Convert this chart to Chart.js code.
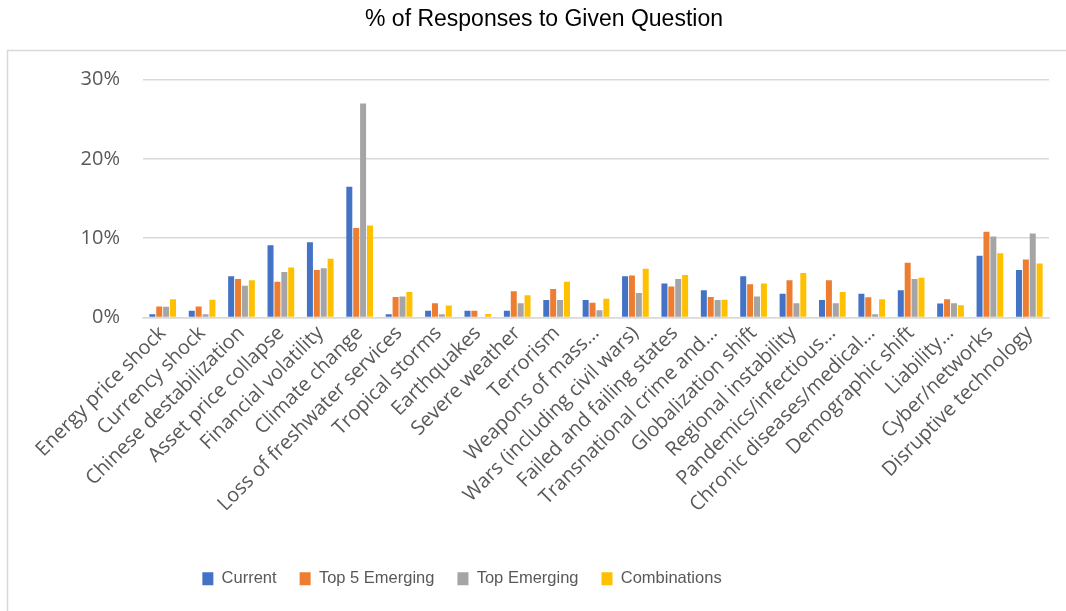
<!DOCTYPE html>
<html>
<head>
<meta charset="utf-8">
<script src="https://cdn.jsdelivr.net/npm/chart.js@4"></script>
<style>
  html, body { margin: 0; padding: 0; background: #fff; overflow: hidden; }
  #wrap { width: 1066px; height: 611px; }
</style>
</head>
<body>
<div id="wrap"><canvas id="risks"></canvas></div>
<script>
var categories = [
  "Energy price shock", "Currency shock", "Chinese destabilization", "Asset price collapse",
  "Financial volatility", "Climate change", "Loss of freshwater services", "Tropical storms",
  "Earthquakes", "Severe weather", "Terrorism", "Weapons of mass…",
  "Wars (including civil wars)", "Failed and failing states", "Transnational crime and…",
  "Globalization shift", "Regional instability", "Pandemics/infectious…",
  "Chronic diseases/medical…", "Demographic shift", "Liability…", "Cyber/networks",
  "Disruptive technology"
];

var current =        [0.4, 0.85, 5.2, 9.1, 9.5, 16.5, 0.4, 0.85, 0.85, 0.85, 2.2, 2.2, 5.2, 4.3, 3.45, 5.2, 3.0, 2.2, 3.0, 3.45, 1.75, 7.8, 6.0];
var top5Emerging =   [1.4, 1.4, 4.85, 4.5, 6.0, 11.3, 2.6, 1.8, 0.85, 3.3, 3.6, 1.85, 5.3, 3.9, 2.6, 4.2, 4.7, 4.7, 2.55, 6.9, 2.3, 10.8, 7.3];
var topEmerging =    [1.35, 0.4, 4.0, 5.75, 6.2, 27.0, 2.65, 0.4, 0, 1.8, 2.2, 0.9, 3.1, 4.85, 2.2, 2.65, 1.8, 1.8, 0.4, 4.85, 1.8, 10.2, 10.6];
var combinations =   [2.3, 2.25, 4.7, 6.3, 7.4, 11.6, 3.2, 1.5, 0.45, 2.8, 4.5, 2.35, 6.15, 5.35, 2.25, 4.3, 5.6, 3.2, 2.3, 5.0, 1.55, 8.1, 6.8];

var yTicks = [0, 10, 20, 30];

var seriesNames = ["Current", "Top 5 Emerging", "Top Emerging", "Combinations"];
var seriesColors = ["#4472C4", "#ED7D31", "#A5A5A5", "#FFC000"];
var seriesData = [current, top5Emerging, topEmerging, combinations];

// grey frame round the plot, title sits above it
var frame = {
  id: "frame",
  beforeDraw(chart) {
    const ctx = chart.ctx;
    ctx.save();
    ctx.strokeStyle = "#D9D9D9";
    ctx.lineWidth = 1.5;
    ctx.strokeRect(7.5, 50.5, 1100, 600);
    ctx.restore();
  },
  // the legend in the original sits left of centre
  afterUpdate(chart) {
    chart.legend.left -= 82;
    chart.legend.right -= 82;
  }
};

new Chart("risks", {
  type: "bar",
  data: {
    labels: categories,
    datasets: seriesNames.map((name, i) => ({
      label: name,
      data: seriesData[i],
      backgroundColor: seriesColors[i],
      categoryPercentage: 0.7,
      barPercentage: 0.87
    }))
  },
  options: {
    responsive: true,
    maintainAspectRatio: false,
    animation: false,
    layout: { padding: { left: 39, right: 17, top: 0, bottom: 14 } },
    plugins: {
      title: {
        display: true,
        text: "% of Responses to Given Question",
        color: "#000",
        font: { family: "'Liberation Sans'", size: 23, weight: "normal" },
        padding: { top: 6, bottom: 46 }
      },
      legend: {
        position: "bottom",
        labels: {
          boxWidth: 11,
          boxHeight: 13,
          padding: 23,
          color: "#595959",
          font: { family: "'Liberation Sans'", size: 16.5 }
        }
      },
      tooltip: { enabled: false }
    },
    scales: {
      x: {
        grid: { display: false, drawTicks: false },
        border: { color: "#D9D9D9", width: 1.5 },
        ticks: {
          color: "#595959",
          font: { family: "'Open Sans'", size: 20 },
          minRotation: 45,
          maxRotation: 45,
          autoSkip: false,
          padding: 4
        },
        afterFit(scale) { scale.height = 230; }
      },
      y: {
        min: 0,
        max: 30,
        afterBuildTicks(scale) { scale.ticks = yTicks.map((v) => ({ value: v })); },
        grid: { color: "#D9D9D9", lineWidth: 1.5, drawTicks: false },
        border: { display: false },
        ticks: {
          color: "#595959",
          font: { family: "'Open Sans'", size: 20 },
          padding: 23,
          callback: (v) => v + "%"
        },
        afterFit(scale) { scale.width = 104; }
      }
    }
  },
  plugins: [frame]
});
</script>
</body>
</html>
